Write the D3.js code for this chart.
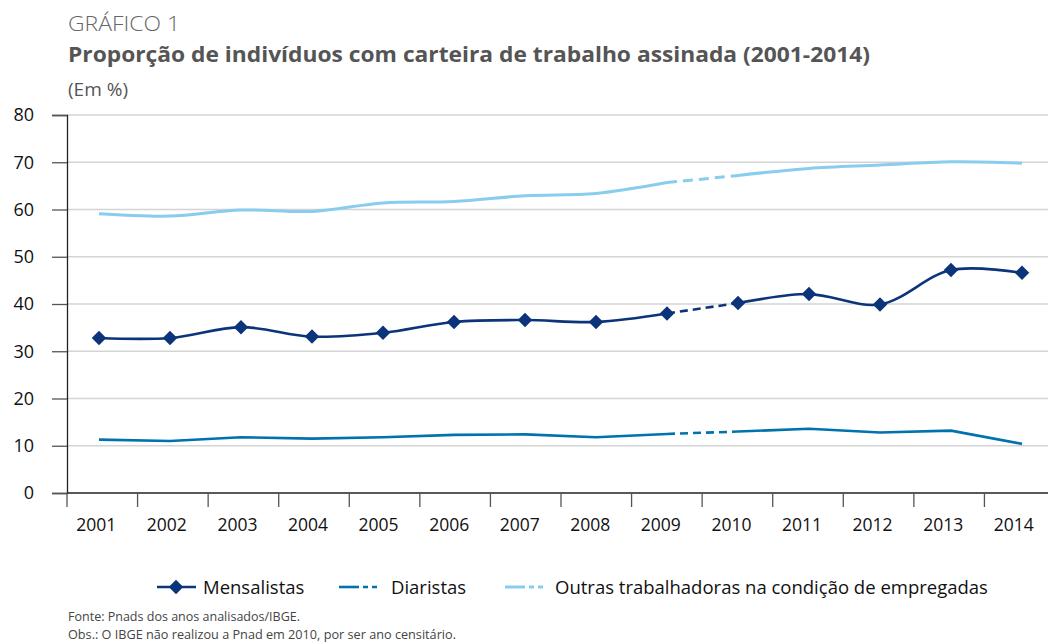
<!DOCTYPE html>
<html>
<head>
<meta charset="utf-8">
<script src="https://cdn.jsdelivr.net/npm/d3@7"></script>
<style>
  body { margin: 0; background: #fff; }
  svg { display: block; font-family: "Open Sans", "Noto Sans", sans-serif; }
</style>
</head>
<body>
<div id="chart"></div>
<script>
const years = [2001, 2002, 2003, 2004, 2005, 2006, 2007, 2008, 2009, 2010, 2011, 2012, 2013, 2014]
const mensalistas = [32.8, 32.8, 35.1, 33.1, 33.9, 36.2, 36.6, 36.2, 38.0, 40.2, 42.1, 39.9, 47.2, 46.6]
const diaristas = [11.3, 11.0, 11.8, 11.5, 11.8, 12.3, 12.4, 11.8, 12.5, 13.0, 13.6, 12.8, 13.2, 10.4]
const outras = [59.1, 58.6, 59.9, 59.6, 61.4, 61.7, 62.9, 63.4, 65.7, 67.2, 68.7, 69.4, 70.1, 69.8]
const yTicks = [0, 10, 20, 30, 40, 50, 60, 70, 80]
const gapYear = 2010 // segment 2009-2010 drawn dashed (no Pnad in 2010)

const series = [
  { name: 'Mensalistas', values: mensalistas, color: '#0b347a', width: 2.6, curve: d3.curveCatmullRom, marker: true, dash: '8,5' },
  { name: 'Diaristas', values: diaristas, color: '#0072ae', width: 2.6, curve: d3.curveLinear, marker: false, dash: '8,5' },
  { name: 'Outras trabalhadoras na condição de empregadas', values: outras, color: '#88cdee', width: 3, curve: d3.curveCatmullRom, marker: false, dash: '10,6' }
]

const width = 1048, height = 644
const svg = d3.select('#chart').append('svg')
  .attr('width', width)
  .attr('height', height)

// scales
const xBand = d3.scaleBand().domain(years).range([67, 1055]).paddingInner(0).paddingOuter(0)
const x = d3.scalePoint().domain(years).range([99, 1022])
const y = d3.scaleLinear().domain([0, 80]).range([493, 115])

// titles
svg.append('text').attr('x', 68).attr('y', 31)
  .text('GRÁFICO 1')
  .attr('textLength', 112).attr('lengthAdjust', 'spacingAndGlyphs')
  .style('font-size', '21px').style('fill', '#666').style('font-weight', 300)
svg.append('text').attr('x', 68).attr('y', 62)
  .text('Proporção de indivíduos com carteira de trabalho assinada (2001-2014)')
  .attr('textLength', 802).attr('lengthAdjust', 'spacingAndGlyphs')
  .style('font-size', '22px').style('fill', '#555').style('font-weight', 700)
svg.append('text').attr('x', 68).attr('y', 96)
  .text('(Em %)')
  .style('font-size', '19px').style('fill', '#555')

// gridlines
svg.append('g').selectAll('line')
  .data(yTicks.filter(d => d > 0))
  .enter().append('line')
  .attr('x1', 67).attr('x2', width)
  .attr('y1', d => y(d)).attr('y2', d => y(d))
  .attr('stroke', '#d4d4d4').attr('stroke-width', 1.3)

// y axis
const yAxis = svg.append('g')
  .attr('transform', 'translate(67,0)')
  .call(d3.axisLeft(y).tickValues(yTicks).tickSize(15).tickPadding(18))
yAxis.select('.domain').attr('stroke', '#222').attr('stroke-width', 1.3)
yAxis.selectAll('.tick line').attr('stroke', '#555').attr('stroke-width', 1.3)
yAxis.selectAll('.tick text')
  .style('font-size', '18px').style('fill', '#111').style('font-family', '"Open Sans", sans-serif')

// x axis
const xg = svg.append('g').attr('transform', 'translate(0,' + y(0) + ')')
xg.append('line').attr('x1', 67).attr('x2', width).attr('stroke', '#222').attr('stroke-width', 1.3)
xg.selectAll('.xt').data(years).enter().append('line')
  .attr('class', 'xt')
  .attr('x1', d => xBand(d)).attr('x2', d => xBand(d))
  .attr('y1', 0).attr('y2', 14)
  .attr('stroke', '#555').attr('stroke-width', 1.3)
xg.selectAll('.xl').data(years).enter().append('text')
  .attr('class', 'xl')
  .attr('x', d => xBand(d) + xBand.bandwidth() / 2 - 6)
  .attr('y', 38)
  .attr('text-anchor', 'middle')
  .text(d => d)
  .style('font-size', '17.5px').style('fill', '#111')

// lines
const gapIdx = years.indexOf(gapYear)
series.forEach(s => {
  const pts = years.map((yr, i) => ({ yr: yr, v: s.values[i] }))
  const line = d3.line().x(d => x(d.yr)).y(d => y(d.v)).curve(s.curve)
  const parts = [
    { data: pts.slice(0, gapIdx), dash: null },
    { data: pts.slice(gapIdx - 1, gapIdx + 1), dash: s.dash },
    { data: pts.slice(gapIdx), dash: null }
  ]
  parts.forEach(p => {
    svg.append('path')
      .datum(p.data)
      .attr('d', line)
      .attr('fill', 'none')
      .attr('stroke', s.color)
      .attr('stroke-width', s.width)
      .attr('stroke-dasharray', p.dash)
  })
  if (s.marker) {
    svg.append('g').selectAll('path')
      .data(pts)
      .enter().append('path')
      .attr('d', d3.symbol(d3.symbolSquare, 105))
      .attr('transform', d => 'translate(' + x(d.yr) + ',' + y(d.v) + ') rotate(45)')
      .attr('fill', s.color)
  }
})

// legend
const legendItems = [
  { s: series[0], x: 157, tx: 203 },
  { s: series[1], x: 339, tx: 391 },
  { s: series[2], x: 505, tx: 555 }
]
const lg = svg.append('g').attr('transform', 'translate(0,587)')
legendItems.forEach(it => {
  if (it.s.marker) {
    lg.append('line').attr('x1', it.x).attr('x2', it.x + 39)
      .attr('stroke', it.s.color).attr('stroke-width', it.s.width)
    lg.append('path')
      .attr('d', d3.symbol(d3.symbolSquare, 105))
      .attr('transform', 'translate(' + (it.x + 19) + ',0) rotate(45)')
      .attr('fill', it.s.color)
  } else {
    lg.append('line').attr('x1', it.x).attr('x2', it.x + 20)
      .attr('stroke', it.s.color).attr('stroke-width', it.s.width)
    lg.append('line').attr('x1', it.x + 20).attr('x2', it.x + 41)
      .attr('stroke', it.s.color).attr('stroke-width', it.s.width)
      .attr('stroke-dasharray', '5,4').attr('stroke-dashoffset', -4)
  }
  lg.append('text').attr('x', it.tx).attr('y', 6.5)
    .text(it.s.name)
    .style('font-size', '18.5px').style('fill', '#111')
})

// notes
svg.append('text').attr('x', 68).attr('y', 621)
  .text('Fonte: Pnads dos anos analisados/IBGE.')
  .attr('textLength', 232).attr('lengthAdjust', 'spacingAndGlyphs')
  .style('font-size', '13px').style('fill', '#444')
svg.append('text').attr('x', 68).attr('y', 639)
  .text('Obs.: O IBGE não realizou a Pnad em 2010, por ser ano censitário.')
  .attr('textLength', 388).attr('lengthAdjust', 'spacingAndGlyphs')
  .style('font-size', '13px').style('fill', '#444')
</script>
</body>
</html>
